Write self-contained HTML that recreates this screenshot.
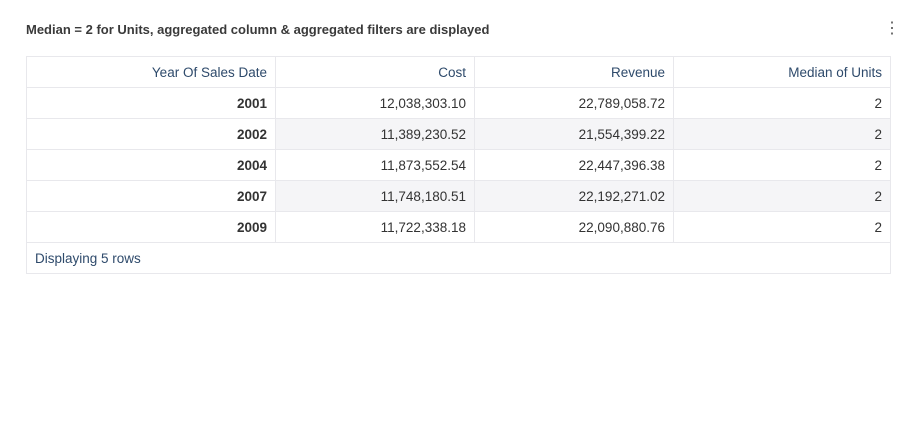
<!DOCTYPE html>
<html><head><meta charset="utf-8"><style>
body{margin:0;width:918px;height:448px;background:#fff;font-family:"Liberation Sans",sans-serif;position:relative;overflow:hidden}
.title{position:absolute;left:26px;top:22px;font-size:13px;font-weight:bold;color:#3a3a3a}
.menu{position:absolute;left:884px;top:21px;font-size:16px;color:#555;line-height:16px}
table{position:absolute;left:26px;top:56px;border-collapse:collapse;font-size:13.5px}
td,th{border:1px solid #e8e8ec;height:31px;padding:0 8px;text-align:right;box-sizing:border-box}
th{font-weight:normal;color:#2e4a6b}
td{color:#333}
td.y{font-weight:bold}
tr.g td:not(.y){background:#f5f5f7}
td.f{text-align:left;color:#2e4a6b}
</style></head><body>
<div class="title">Median = 2 for Units, aggregated column &amp; aggregated filters are displayed</div>
<div class="menu">⋮</div>
<table>
<tr><th style="width:249px">Year Of Sales Date</th><th style="width:199px">Cost</th><th style="width:199px">Revenue</th><th style="width:217px">Median of Units</th></tr>
<tr><td class="y">2001</td><td>12,038,303.10</td><td>22,789,058.72</td><td>2</td></tr>
<tr class="g"><td class="y">2002</td><td>11,389,230.52</td><td>21,554,399.22</td><td>2</td></tr>
<tr><td class="y">2004</td><td>11,873,552.54</td><td>22,447,396.38</td><td>2</td></tr>
<tr class="g"><td class="y">2007</td><td>11,748,180.51</td><td>22,192,271.02</td><td>2</td></tr>
<tr><td class="y">2009</td><td>11,722,338.18</td><td>22,090,880.76</td><td>2</td></tr>
<tr><td class="f" colspan="4">Displaying 5 rows</td></tr>
</table>
</body></html>
